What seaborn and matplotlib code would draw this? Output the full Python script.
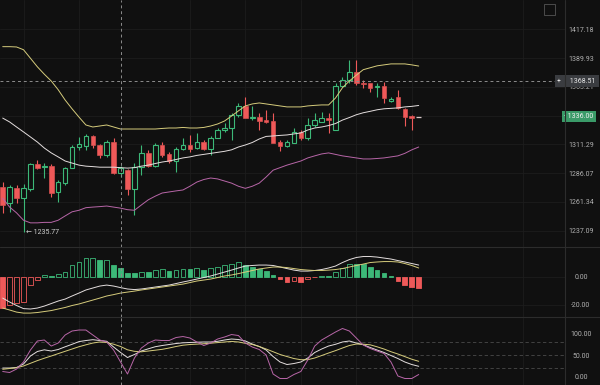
import matplotlib
matplotlib.use("Agg")
import matplotlib.pyplot as plt
import numpy as np
import seaborn as sns
from matplotlib.lines import Line2D
from matplotlib.patches import Rectangle
from matplotlib.ticker import NullLocator, NullFormatter

# ----------------------------
# Data (61 candles, last one just opened)
# ----------------------------
opens = [1273.9, 1260.6, 1273.0, 1264.5, 1272.5, 1294.0, 1291.3, 1292.2, 1269.9, 1277.5,
         1290.5, 1309.0, 1309.9, 1318.8, 1310.8, 1302.1, 1313.4, 1286.4, 1288.7, 1272.5,
         1291.3, 1303.8, 1292.2, 1310.8, 1302.9, 1296.7, 1307.2, 1310.8, 1308.1, 1313.4,
         1307.2, 1317.0, 1324.1, 1325.9, 1337.8, 1345.8, 1334.8, 1335.7, 1333.0, 1332.2,
         1313.4, 1309.9, 1312.5, 1322.4, 1317.0, 1328.6, 1331.3, 1334.8, 1324.1, 1364.2,
         1369.5, 1376.6, 1366.8, 1366.8, 1363.2, 1364.2, 1350.3, 1353.9, 1343.0, 1336.6, 1336.0]
highs = [1278.4, 1275.6, 1275.6, 1276.6, 1294.9, 1297.6, 1294.9, 1294.0, 1280.2, 1291.3,
         1310.8, 1317.9, 1320.6, 1319.7, 1311.6, 1315.2, 1317.0, 1292.2, 1289.6, 1294.9,
         1310.8, 1306.5, 1312.5, 1313.4, 1304.7, 1309.0, 1317.0, 1319.7, 1321.5, 1315.2,
         1318.8, 1325.9, 1330.4, 1339.6, 1348.5, 1353.9, 1345.8, 1339.6, 1342.3, 1339.6,
         1315.2, 1315.2, 1325.9, 1324.1, 1334.8, 1339.6, 1340.5, 1339.6, 1366.8, 1372.2,
         1388.0, 1388.0, 1369.5, 1366.8, 1366.8, 1367.7, 1353.9, 1360.6, 1343.9, 1337.5, 1336.0]
lows = [1252.1, 1253.0, 1260.6, 1235.77, 1270.8, 1289.6, 1282.0, 1265.4, 1261.4, 1275.7,
        1290.5, 1306.5, 1306.5, 1308.1, 1299.4, 1300.3, 1285.5, 1282.8, 1267.2, 1250.4,
        1284.6, 1291.3, 1291.3, 1300.3, 1294.9, 1287.3, 1306.5, 1304.7, 1307.2, 1306.5,
        1302.1, 1317.0, 1322.4, 1315.2, 1335.7, 1334.8, 1333.0, 1324.1, 1330.4, 1312.5,
        1305.6, 1309.0, 1312.5, 1315.2, 1315.2, 1326.8, 1331.3, 1321.5, 1324.1, 1363.2,
        1366.8, 1365.1, 1362.4, 1358.8, 1353.9, 1348.5, 1349.4, 1343.2, 1328.1, 1324.4, 1336.0]
closes = [1258.8, 1273.9, 1264.5, 1273.0, 1294.0, 1290.5, 1292.7, 1269.0, 1278.4, 1290.5,
          1309.0, 1311.6, 1318.8, 1310.8, 1302.1, 1313.4, 1286.4, 1290.5, 1272.5, 1291.3,
          1303.8, 1292.2, 1310.8, 1302.1, 1296.7, 1307.2, 1310.8, 1307.2, 1313.4, 1307.2,
          1317.0, 1324.1, 1325.9, 1337.8, 1345.8, 1334.8, 1335.7, 1332.2, 1331.3, 1312.5,
          1309.9, 1313.4, 1322.4, 1317.0, 1328.6, 1333.0, 1334.8, 1333.0, 1364.2, 1369.5,
          1376.6, 1366.8, 1365.9, 1362.4, 1364.2, 1353.0, 1352.1, 1344.0, 1335.7, 1334.8, 1336.0]

bb_upper = [1400.7, 1400.7, 1400.4, 1397.8, 1389.8, 1381.8, 1374.9, 1368.6, 1360.6, 1351.2,
            1343.2, 1335.7, 1328.6, 1326.8, 1327.7, 1328.6, 1326.8, 1325.0, 1325.0, 1325.0,
            1325.0, 1325.0, 1325.0, 1325.5, 1325.9, 1325.9, 1326.4, 1325.9, 1325.9, 1326.4,
            1327.7, 1329.5, 1332.2, 1336.6, 1341.3, 1345.8, 1347.6, 1348.5, 1347.6, 1346.7,
            1345.8, 1344.9, 1344.9, 1344.9, 1345.8, 1346.3, 1346.7, 1346.7, 1353.0, 1362.4,
            1368.6, 1374.0, 1379.1, 1380.9, 1382.7, 1383.6, 1384.5, 1384.5, 1384.5, 1383.6, 1382.5]
bb_mid = [1334.8, 1331.3, 1326.8, 1322.4, 1317.9, 1313.4, 1308.1, 1303.8, 1300.3, 1296.7,
          1294.9, 1293.1, 1292.2, 1291.8, 1291.3, 1291.3, 1291.3, 1290.9, 1290.5, 1290.9,
          1292.2, 1293.1, 1294.5, 1295.8, 1296.7, 1298.0, 1299.4, 1300.3, 1301.6, 1302.5,
          1303.4, 1304.3, 1305.2, 1306.5, 1309.0, 1310.8, 1313.0, 1316.1, 1318.4, 1318.8,
          1319.3, 1319.7, 1320.6, 1321.5, 1324.1, 1325.9, 1326.8, 1328.1, 1329.9, 1333.0,
          1335.3, 1337.8, 1339.6, 1340.9, 1342.3, 1343.2, 1343.6, 1344.0, 1344.9, 1345.4, 1346.2]
bb_lower = [1264.5, 1257.0, 1252.1, 1245.9, 1243.7, 1243.7, 1244.1, 1244.1, 1245.9, 1249.5,
            1253.0, 1254.3, 1256.5, 1257.0, 1257.4, 1257.9, 1257.0, 1256.1, 1254.8, 1254.3,
            1258.8, 1263.2, 1266.3, 1269.0, 1269.9, 1270.8, 1271.6, 1274.8, 1278.4, 1280.6,
            1281.9, 1281.1, 1279.3, 1277.5, 1274.8, 1273.0, 1274.8, 1277.5, 1282.8, 1288.7,
            1290.9, 1293.1, 1294.9, 1296.7, 1299.4, 1301.2, 1302.9, 1303.8, 1302.5, 1301.2,
            1300.3, 1299.4, 1298.5, 1298.5, 1298.9, 1299.4, 1300.3, 1301.2, 1303.4, 1306.5, 1309.0]

macd_hist = [-22.5, -20.4, -19.0, -18.0, -6.0, -2.5, 0.8, 0.5, 1.5, 3.5,
             8.0, 10.5, 13.0, 13.2, 11.8, 12.0, 8.0, 6.0, 2.5, 2.3,
             3.5, 3.0, 5.0, 5.2, 4.0, 5.0, 5.5, 5.3, 6.0, 5.0,
             5.9, 6.7, 7.9, 9.1, 10.2, 8.6, 6.7, 5.5, 4.3, 0.8,
             -2.0, -3.7, -3.5, -4.2, -2.0, -0.5, 0.3, 0.3, 3.4, 5.8,
             9.2, 9.1, 8.9, 6.6, 4.6, 2.3, 0.3, -3.0, -6.0, -7.3, -8.5]
macd_dif = [-15.4, -18.2, -20.7, -22.9, -23.2, -22.5, -21.1, -19.3, -17.5, -16.1,
            -13.9, -11.8, -9.6, -8.2, -6.8, -6.1, -6.8, -7.9, -8.9, -9.3,
            -8.9, -8.2, -7.5, -6.8, -6.1, -5.0, -3.9, -2.9, -1.8, -0.7,
            0.4, 1.8, 3.2, 4.6, 6.1, 7.5, 7.9, 8.2, 8.2, 7.9,
            6.8, 5.7, 4.6, 3.9, 3.9, 4.3, 5.0, 6.1, 7.5, 10.0,
            12.1, 13.6, 14.3, 14.3, 13.9, 13.2, 12.5, 11.4, 10.4, 9.3, 8.2]
macd_dea = [-22.5, -23.9, -25.4, -26.1, -26.1, -25.7, -25.0, -24.3, -23.2, -22.1,
            -20.7, -19.6, -18.2, -16.8, -15.4, -13.9, -12.9, -11.8, -11.1, -10.4,
            -9.6, -8.9, -8.2, -7.5, -6.8, -6.1, -5.4, -4.3, -3.2, -2.5,
            -1.8, -0.7, 0.4, 1.1, 2.1, 3.2, 4.3, 5.4, 6.1, 6.8,
            6.8, 6.4, 5.7, 5.0, 4.6, 4.3, 4.3, 4.6, 5.0, 5.7,
            6.8, 7.9, 8.9, 10.0, 10.4, 10.7, 10.7, 10.4, 9.3, 7.9, 6.1]

kdj_k = [20.0, 20.0, 21.2, 29.3, 47.7, 58.1, 62.0, 59.2, 62.7, 68.9,
         74.7, 80.9, 83.4, 85.3, 83.4, 81.6, 68.4, 55.8, 44.2, 51.2,
         59.2, 64.3, 69.1, 71.9, 74.2, 76.5, 78.1, 78.8, 79.5, 80.0,
         80.0, 81.6, 84.6, 86.9, 85.7, 82.3, 75.3, 69.6, 61.5, 46.5,
         33.9, 28.1, 30.4, 33.9, 43.1, 55.8, 63.8, 70.7, 74.7, 80.0,
         82.3, 77.6, 73.7, 67.3, 61.5, 55.8, 48.8, 41.9, 33.9, 28.1, 24.0]
kdj_d = [17.1, 18.9, 20.7, 24.7, 30.9, 37.1, 42.6, 47.7, 53.2, 58.5,
         63.8, 69.1, 73.5, 77.6, 80.0, 78.8, 74.9, 69.6, 62.0, 58.5,
         57.4, 59.2, 61.1, 63.1, 66.1, 69.6, 72.6, 74.2, 75.1, 76.0,
         77.2, 78.6, 80.0, 81.3, 80.0, 77.0, 74.2, 69.6, 63.8, 57.6,
         51.2, 46.5, 41.9, 39.2, 39.2, 43.1, 48.8, 54.6, 60.1, 66.1,
         71.9, 75.3, 74.9, 73.5, 68.9, 63.8, 57.6, 52.3, 46.3, 40.3, 35.5]
kdj_j = [12.0, 9.7, 17.7, 33.9, 61.5, 82.3, 84.6, 70.7, 77.6, 96.1,
         105.3, 107.6, 107.6, 96.1, 84.6, 80.0, 61.5, 33.9, 6.2, 43.1,
         66.1, 77.6, 84.6, 83.4, 83.4, 90.3, 92.6, 89.2, 80.0, 71.9,
         77.6, 86.9, 91.5, 97.2, 94.9, 77.6, 68.4, 62.7, 50.0, 6.2,
         -4.1, -4.1, 5.1, 12.0, 38.5, 70.7, 84.6, 93.8, 103.0, 111.1,
         105.3, 89.2, 73.0, 65.0, 59.2, 53.5, 33.9, 1.6, -4.1, -4.1, 5.1]

price_ticks = [1417.18, 1389.93, 1363.21, 1337.00, 1311.29, 1286.07, 1261.34, 1237.09]
price_labels = ["1417.18", "1389.93", "1363.21", "", "1311.29", "1286.07", "1261.34", "1237.09"]
macd_ticks = [0, -20]
macd_labels = ["0.00", "-20.00"]
kdj_ticks = [100, 50, 0]
kdj_labels = ["100.00", "50.00", "0.00"]
kdj_levels = [80, 50, 20]
grid_idx = [3, 11, 27, 35, 43, 51, 59, 75]

last_price = 1336.00
cross_price = 1368.51
cross_idx = 17
low_price = 1235.77
low_idx = 3

# ----------------------------
# Style
# ----------------------------
BG = "#101010"
GRID = "#1d1d1d"
SEP = "#2c2c2c"
LABEL = "#b0b0b0"
UP = "#3cb878"
DOWN = "#ef5959"
FLAT = "#d8c8c8"
YEL = "#d6cc7c"
WHT = "#e4dede"
MAG = "#b866a8"
CROSS = "#8c8c8c"

sns.set_style("dark", {"axes.facecolor": BG, "figure.facecolor": BG,
                       "grid.color": GRID, "axes.edgecolor": BG})
plt.rcParams["font.family"] = ["Roboto", "DejaVu Sans"]

fig = plt.figure(figsize=(6, 3.85), dpi=100, facecolor=BG)
W = 565 / 600
ax_p = fig.add_axes([0, 138 / 385, W, 247 / 385])
ax_m = fig.add_axes([0, 68 / 385, W, 70 / 385], sharex=ax_p)
ax_k = fig.add_axes([0, 0, W, 68 / 385], sharex=ax_p)
axes = [ax_p, ax_m, ax_k]

idx = np.arange(len(opens))
o, h, l, c = (np.array(v) for v in (opens, highs, lows, closes))

# ----------------------------
# Price panel: hollow candles + Bollinger
# ----------------------------
ax_p.set_yscale("log")
top = np.maximum(o, c)
bot = np.minimum(o, c)
up, dn, fl = c > o, c < o, c == o
cols = np.where(up, UP, np.where(dn, DOWN, FLAT))
ax_p.vlines(idx, l, bot, colors=cols, lw=0.8, zorder=2)
ax_p.vlines(idx, top, h, colors=cols, lw=0.8, zorder=2)
ax_p.bar(idx[up], (top - bot)[up], bottom=bot[up], width=0.66,
         color=BG, edgecolor=UP, linewidth=0.8, zorder=3)
ax_p.bar(idx[dn], (top - bot)[dn], bottom=bot[dn], width=0.66,
         color=DOWN, edgecolor=DOWN, linewidth=0.4, zorder=3)
ax_p.hlines(c[fl], idx[fl] - 0.35, idx[fl] + 0.35, colors=FLAT, lw=0.9, zorder=3)

for band, col in ((bb_upper, YEL), (bb_mid, WHT), (bb_lower, MAG)):
    sns.lineplot(x=idx, y=band, ax=ax_p, color=col, lw=0.7, zorder=4, legend=False)

ax_p.set_ylim(1223.6, 1445.5)
ax_p.set_yticks(price_ticks)
ax_p.set_yticklabels(price_labels)
ax_p.yaxis.set_minor_locator(NullLocator())
ax_p.yaxis.set_minor_formatter(NullFormatter())

# ----------------------------
# MACD panel
# ----------------------------
hist = np.array(macd_hist)
prev = np.r_[np.inf, hist[:-1]]
hcol = np.where(hist >= 0, UP, DOWN)
face = np.where(hist > prev, BG, hcol)
ax_m.bar(idx, hist, width=0.68, color=face, edgecolor=hcol, linewidth=0.6, zorder=3)
sns.lineplot(x=idx, y=macd_dif, ax=ax_m, color=WHT, lw=0.7, zorder=4, legend=False)
sns.lineplot(x=idx, y=macd_dea, ax=ax_m, color=YEL, lw=0.7, zorder=4, legend=False)
ax_m.set_ylim(-28.9, 21.1)
ax_m.set_yticks(macd_ticks)
ax_m.set_yticklabels(macd_labels)

# ----------------------------
# KDJ panel
# ----------------------------
for lv in kdj_levels:
    ax_k.axhline(lv, color="#4a4a4a", lw=0.6, ls=(0, (4, 3)), zorder=1)
sns.lineplot(x=idx, y=kdj_k, ax=ax_k, color=WHT, lw=0.7, zorder=4, legend=False)
sns.lineplot(x=idx, y=kdj_d, ax=ax_k, color=YEL, lw=0.7, zorder=4, legend=False)
sns.lineplot(x=idx, y=kdj_j, ax=ax_k, color=MAG, lw=0.7, zorder=4, legend=False)
ax_k.set_ylim(-19.1, 137.6)
ax_k.set_yticks(kdj_ticks)
ax_k.set_yticklabels(kdj_labels)

# ----------------------------
# Common axis styling
# ----------------------------
for ax in axes:
    ax.set_facecolor(BG)
    ax.set_xlabel("")
    ax.set_ylabel("")
    ax.set_xlim(-0.39, 81.1)
    for s in ax.spines.values():
        s.set_visible(False)
    ax.yaxis.tick_right()
    ax.tick_params(axis="x", length=0, labelbottom=False)
    ax.tick_params(axis="y", which="both", length=0, pad=11.5,
                   labelsize=5, labelcolor=LABEL)
    for t in ax.get_yticklabels():
        t.set_horizontalalignment("center")
    ax.grid(False)
    for g in grid_idx:
        ax.axvline(g, color=GRID, lw=0.6, zorder=0)
    ax.axvline(cross_idx, color=CROSS, lw=0.7, ls=(0, (3, 3)), zorder=5)

for ax in (ax_p, ax_m):
    ax.yaxis.grid(True, color=GRID, lw=0.6, zorder=0)
    ax.set_axisbelow(True)

ax_p.axhline(cross_price, color=CROSS, lw=0.7, ls=(0, (3, 3)), zorder=5)

# panel separators and price-scale border
for yf in (138 / 385, 68 / 385):
    fig.add_artist(Line2D([0, 1], [yf, yf], transform=fig.transFigure, color=SEP, lw=0.8))
fig.add_artist(Line2D([W, W], [0, 1], transform=fig.transFigure, color=SEP, lw=0.8))

# ----------------------------
# Labels / badges
# ----------------------------
ax_p.annotate("+     " + f"{cross_price:.2f} ", xy=(577 / 600, cross_price),
              xycoords=("figure fraction", "data"), ha="center", va="center",
              fontsize=5, color="#e8e8e8", annotation_clip=False, zorder=10,
              bbox=dict(boxstyle="square,pad=0.35", fc="#3a3c40", ec="none"))
ax_p.annotate(f"- {last_price:.2f}", xy=(579 / 600, last_price),
              xycoords=("figure fraction", "data"), ha="center", va="center",
              fontsize=5, color="#f2f2f2", annotation_clip=False, zorder=10,
              bbox=dict(boxstyle="square,pad=0.3", fc="#3a9a68", ec="none"))
ax_p.text(low_idx + 0.4, low_price, f"\u2190 {low_price:.2f}", ha="left", va="center",
          fontsize=5, color="#cfcfcf", zorder=6)

fig.add_artist(Rectangle((544 / 600, 1 - 15 / 385), 11 / 600, 11 / 385,
                         transform=fig.transFigure, fill=False, ec="#555555", lw=0.6))

fig.savefig("out.png", dpi=100, facecolor=BG)
